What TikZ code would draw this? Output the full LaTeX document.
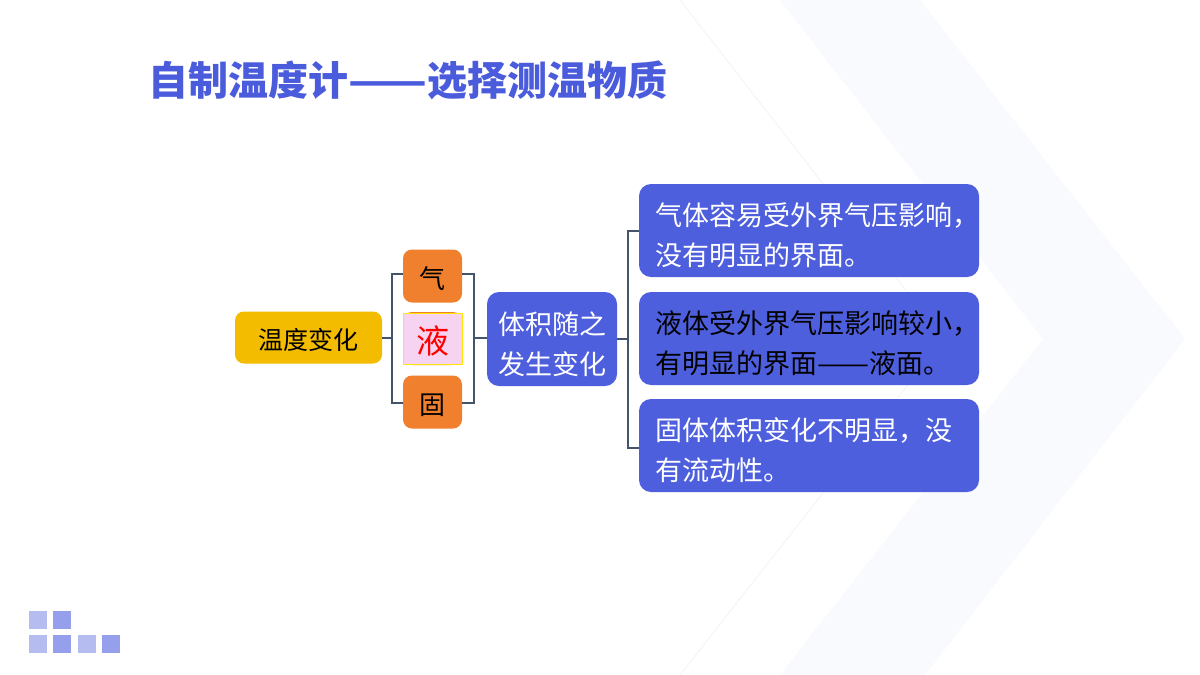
\documentclass[tikz,border=0pt]{standalone}
\usepackage{fontspec}
\usepackage{graphicx}
\setmainfont{Noto Sans CJK SC}
\definecolor{bandc}{HTML}{F9FAFE}
\definecolor{thinc}{HTML}{F1F2FB}
\definecolor{titlec}{HTML}{4A5BDC}
\definecolor{boxc}{HTML}{4D5FDD}
\definecolor{linec}{HTML}{44546A}
\definecolor{yellowc}{HTML}{F4BC00}
\definecolor{orangec}{HTML}{F0802E}
\definecolor{pinkc}{HTML}{F6D3F0}
\definecolor{sqa}{HTML}{B4BCF0}
\definecolor{sqb}{HTML}{959FEC}
\newcommand{\dn}[2]{\raisebox{-#1}[0pt][0pt]{#2}}
\newcommand{\sln}[1]{\hspace*{16pt}\dn{15pt}{#1}}
\newcommand{\longdash}{\scalebox{1.15}[1]{——}}
\tikzset{
  base/.style={inner sep=0pt,outer sep=0pt,rounded corners=9pt,align=center},
  yellowbox/.style={base,fill=yellowc,minimum width=147pt,minimum height=52pt,font=\fontsize{25}{30}\selectfont},
  orangebox/.style={base,fill=orangec,minimum width=59pt,minimum height=53pt,font=\fontsize{26}{30}\selectfont},
  midbox/.style={base,fill=boxc,text=white,minimum width=130pt,minimum height=94pt,rounded corners=12pt,font=\fontsize{27}{40}\selectfont},
  sidebox/.style={base,fill=boxc,text=white,text width=340pt,align=left,minimum height=93pt,rounded corners=12pt,font=\fontsize{27}{40}\selectfont},
  link/.style={draw=linec,line width=2pt},
  square/.style={minimum size=18pt,inner sep=0pt,outer sep=0pt}
}
\begin{document}
\begin{tikzpicture}[x=1pt,y=-1pt]
\useasboundingbox (0,0) rectangle (1200,675);
\fill[white] (0,0) rectangle (1200,675);
% background chevrons
\fill[bandc] (780,0) -- (920,0) -- (1185,339) -- (925,675) -- (780,675) -- (1043,339) -- cycle;
\draw[thinc,line width=0.7pt] (680,0) -- (944,339) -- (680,675);
% title
\node[anchor=west,inner sep=0pt,text=titlec,font=\fontsize{40}{48}\selectfont\bfseries] (title) at (148.5,80) {自制温度计\longdash 选择测温物质};
% nodes
\node[yellowbox] (src) at (308.5,337.5) {\dn{12pt}{温度变化}};
\node[orangebox] (qi) at (432.5,276) {\dn{12pt}{气}};
\node[base,fill=orangec,minimum width=59pt,minimum height=53pt] (yeback) at (432.5,338.5) {};
\node[draw=yellow!90!orange,line width=1pt,fill=pinkc,text=red,inner sep=0pt,outer sep=0pt,minimum width=59pt,minimum height=51pt,font=\fontsize{33}{36}\selectfont] (ye) at (433,338.5) {\dn{15pt}{液}};
\node[orangebox] (gu) at (432.5,402) {\dn{12pt}{固}};
\node[midbox] (mid) at (552,339) {\dn{15.5pt}{体积随之}\\\dn{15.5pt}{发生变化}};
\node[sidebox] (a) at (809,230.5) {\sln{气体容易受外界气压影响，}\\\sln{没有明显的界面。}};
\node[sidebox,text=black] (b) at (809,338.5) {\sln{液体受外界气压影响较小，}\\\sln{有明显的界面\longdash 液面。}};
\node[sidebox] (c) at (809,445.5) {\sln{固体体积变化不明显，没}\\\sln{有流动性。}};
% junctions
\coordinate (lb) at (392,338);
\coordinate (rb) at (474,338);
\coordinate (hub) at (628,339);
% connectors
\draw[link] (src.east |- lb) -- (lb);
\draw[link] ([yshift=2pt]qi.west) -| (lb);
\draw[link] ([yshift=-1pt]gu.west) -| (lb);
\draw[link] ([yshift=2pt]qi.east) -| (rb);
\draw[link] ([yshift=-1pt]gu.east) -| (rb);
\draw[link] (rb) -- (mid.west |- rb);
\draw[link] (mid.east |- hub) -- (hub);
\draw[link] (a.west) -| (hub);
\draw[link] ([yshift=-2.5pt]c.west) -| (hub);
% corner squares
\node[square,fill=sqa] (s1) at (38,619.5) {};
\node[square,fill=sqb] (s2) at (62,619.5) {};
\node[square,fill=sqa] (s3) at (38,643.5) {};
\node[square,fill=sqb] (s4) at (62,643.5) {};
\node[square,fill=sqa] (s5) at (87,643.5) {};
\node[square,fill=sqb] (s6) at (111,643.5) {};
\end{tikzpicture}
\end{document}
